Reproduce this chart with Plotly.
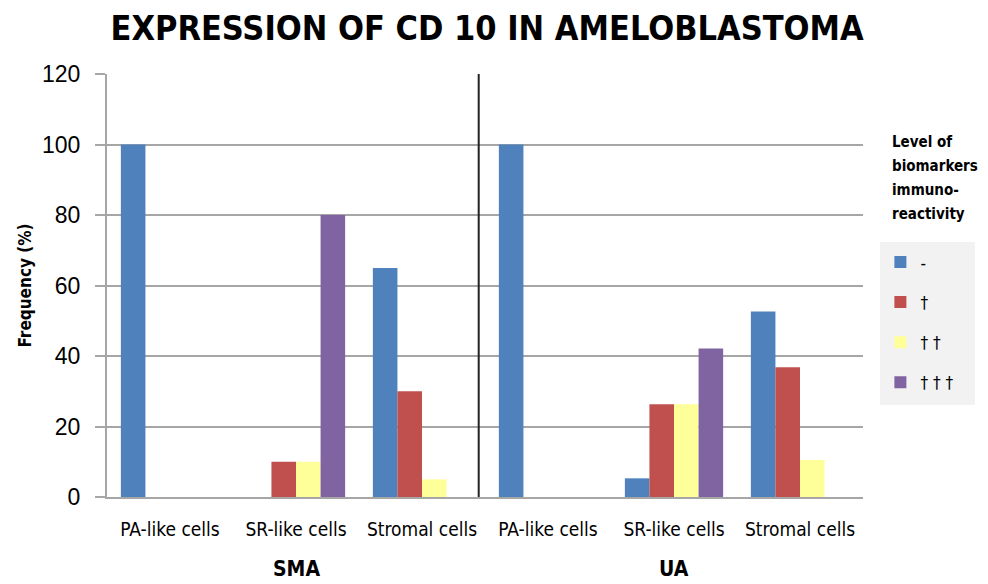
import plotly.graph_objects as go

# Tumour groups and cell compartments
groups = ["SMA", "UA"]
cell_types = ["PA-like cells", "SR-like cells", "Stromal cells"]

# Immunoreactivity levels (legend labels) and bar colours
levels = ["-", "\u2020", "\u2020 \u2020", "\u2020 \u2020 \u2020"]
colors = ["#4f81bd", "#c0504d", "#ffff99", "#8064a2"]

# Frequency (%) per level, ordered SMA (PA, SR, Stromal) then UA (PA, SR, Stromal)
freq_neg = [100, 0, 65, 100, 5.3, 52.6]
freq_1 = [0, 10, 30, 0, 26.3, 36.8]
freq_2 = [0, 10, 5, 0, 26.3, 10.5]
freq_3 = [0, 80, 0, 0, 42.1, 0]
series = [freq_neg, freq_1, freq_2, freq_3]

y_ticks = [0, 20, 40, 60, 80, 100, 120]
legend_heading = ["Level of", "biomarkers", "immuno-", "reactivity"]

labels = [c for g in groups for c in cell_types]
xpos = list(range(len(labels)))

FONT = "DejaVu Sans Condensed, Liberation Sans Narrow, sans-serif"

fig = go.Figure()
for name, vals, col in zip(levels, series, colors):
    fig.add_trace(go.Bar(
        x=xpos, y=vals, name=name, legendgroup=name,
        marker=dict(color=col, line=dict(width=0)),
    ))

# Divider between the SMA and UA groups
fig.add_shape(type="line", xref="x", yref="y",
              x0=len(cell_types) - 0.55, x1=len(cell_types) - 0.55,
              y0=0, y1=120, line=dict(color="#222222", width=2))

# Grey panel behind the legend entries
fig.add_shape(type="rect", xref="paper", yref="paper",
              x0=1.0225, x1=1.148, y0=0.2175, y1=0.603,
              fillcolor="#f2f2f2", line=dict(width=0), layer="below")

# Group labels under the category ticks
for i, g in enumerate(groups):
    center = i * len(cell_types) + (len(cell_types) - 1) / 2
    fig.add_annotation(x=center, xref="x", y=0, yref="paper", yshift=-72,
                       yanchor="middle",
                       text="<b>%s</b>" % g, showarrow=False,
                       font=dict(family=FONT, size=21, color="#000000"))

# Legend heading, one line per annotation for wider line spacing
for k, line in enumerate(legend_heading):
    fig.add_annotation(xref="paper", yref="paper", x=1.036, y=0.84 - k * 0.057,
                       xanchor="left", yanchor="middle", align="left",
                       text="<b>%s</b>" % line, showarrow=False,
                       font=dict(family=FONT, size=15, color="#000000"))

fig.update_layout(
    width=988, height=584,
    margin=dict(l=107, r=125, t=74, b=87),
    paper_bgcolor="white", plot_bgcolor="white",
    barmode="group", bargap=0.22, bargroupgap=0,
    title=dict(text="<b>EXPRESSION OF CD 10 IN AMELOBLASTOMA</b>",
               x=0.493, xanchor="center", y=0.952, yanchor="middle",
               font=dict(family=FONT, size=34, color="#000000")),
    font=dict(family=FONT, color="#000000"),
    legend=dict(x=1.023, xanchor="left", y=0.597, yanchor="top",
                bgcolor="rgba(0,0,0,0)", borderwidth=0,
                tracegroupgap=15,
                font=dict(family=FONT, size=17, color="#000000")),
    xaxis=dict(tickvals=xpos, ticktext=labels, range=[-0.5, len(labels) - 0.5],
               showgrid=False, ticks="", showline=True,
               linecolor="#a6a6a6", linewidth=2, ticklabelstandoff=14,
               tickfont=dict(family=FONT, size=19, color="#000000")),
    yaxis=dict(range=[0, 120], tickvals=y_ticks, showgrid=True,
               gridcolor="#a6a6a6", gridwidth=2, zeroline=False,
               showline=True, linecolor="#a6a6a6", linewidth=2,
               ticks="outside", ticklen=10, tickcolor="#a6a6a6", tickwidth=2,
               ticklabelstandoff=10,
               tickfont=dict(family="Liberation Sans, Arial, sans-serif", size=23,
                             color="#000000"),
               title=dict(text="<b>Frequency (%)</b>", standoff=6,
                          font=dict(family=FONT, size=17, color="#000000"))),
)

fig.write_html("out.html")
